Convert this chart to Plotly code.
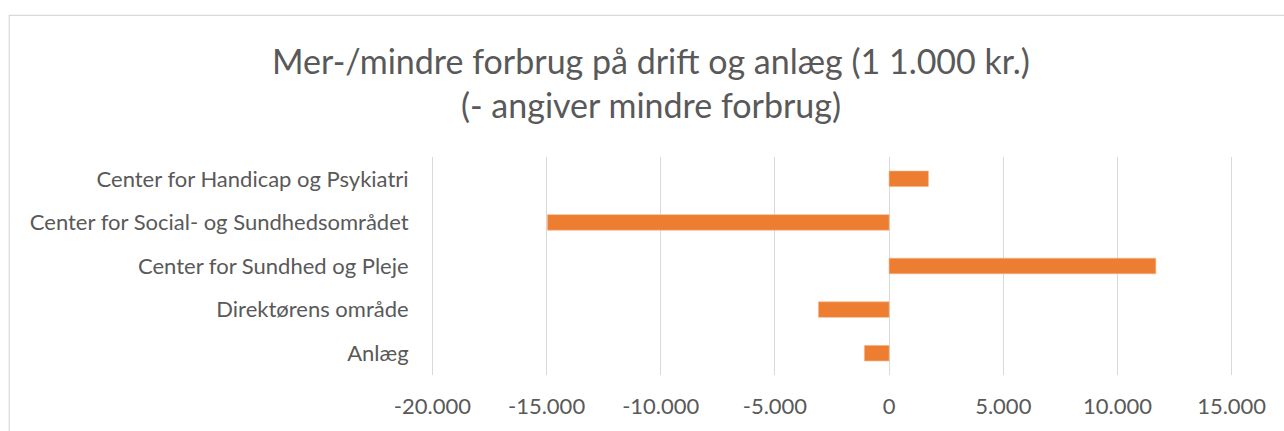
import plotly.graph_objects as go

categories = [
    "Center for Handicap og Psykiatri",
    "Center for Social- og Sundhedsområdet",
    "Center for Sundhed og Pleje",
    "Direktørens område",
    "Anlæg",
]
values = [1720, -14960, 11680, -3090, -1080]

tick_vals = [-20000, -15000, -10000, -5000, 0, 5000, 10000, 15000]
tick_text = ["-20.000", "-15.000", "-10.000", "-5.000", "0", "5.000", "10.000", "15.000"]

W, H = 1284, 431
PAD = 60  # small range padding so edge gridlines are drawn
ppu = 800 / 35000
L = 432 - PAD * ppu
R = 52 - PAD * ppu
T, B = 157, 53
pw, ph = W - L - R, H - T - B

FONT = "Lato"
GRAY = "#595959"

fig = go.Figure(go.Bar(
    y=categories, x=values, orientation="h",
    marker=dict(color="#ED7D31", line=dict(color="#F4B183", width=0.6)),
))

fig.update_layout(
    width=W, height=H,
    margin=dict(l=L, r=R, t=T, b=B, pad=0),
    paper_bgcolor="white", plot_bgcolor="white",
    bargap=0.645,
    showlegend=False,
    font=dict(family=FONT, size=22, color=GRAY),
    title=dict(
        text="Mer-/mindre forbrug på drift og anlæg (1 1.000 kr.)<br>(- angiver mindre forbrug)",
        x=0.507, xanchor="center", xref="container",
        y=1 - 74 / H, yanchor="middle", yref="container",
        font=dict(family=FONT, size=34, color=GRAY),
    ),
    xaxis=dict(
        range=[-20000 - PAD, 15000 + PAD],
        tickvals=tick_vals, ticktext=tick_text,
        showgrid=True, gridcolor="#D9D9D9", gridwidth=1,
        zeroline=True, zerolinecolor="#D9D9D9", zerolinewidth=1,
        showline=False,
        ticks="outside", ticklen=12, tickcolor="rgba(0,0,0,0)",
        tickfont=dict(family=FONT, size=22, color=GRAY),
        fixedrange=True,
    ),
    yaxis=dict(
        autorange="reversed",
        showgrid=False, zeroline=False, showline=False,
        ticks="outside", ticklen=17, tickcolor="rgba(0,0,0,0)",
        tickfont=dict(family=FONT, size=22, color=GRAY),
        fixedrange=True,
    ),
    shapes=[dict(
        type="rect", xref="paper", yref="paper",
        x0=(8.5 - L) / pw, x1=(W + 20 - L) / pw,
        y0=(T + ph - (H + 20)) / ph, y1=(T + ph - 13.5) / ph,
        line=dict(color="#D9D9D9", width=1.2), fillcolor="rgba(0,0,0,0)",
        layer="below",
    )],
)

fig.write_html(
    "out.html",
    config={"displayModeBar": False},
    post_script="document.body.style.margin='0';document.body.style.overflow='hidden';",
)
